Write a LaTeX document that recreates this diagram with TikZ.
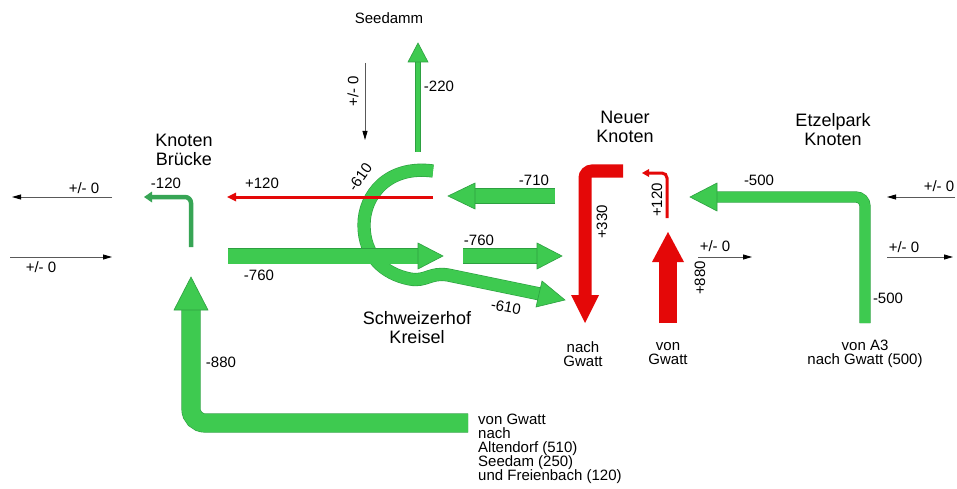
\documentclass[tikz,border=0pt]{standalone}
\usepackage{fontspec}
\setmainfont{Liberation Sans}
\usetikzlibrary{arrows.meta}
\definecolor{gfill}{RGB}{62,202,80}
\definecolor{gdark}{RGB}{45,160,65}
\definecolor{gthin}{RGB}{55,165,85}
\definecolor{rfill}{RGB}{228,8,8}
\begin{document}
\begin{tikzpicture}[x=1pt,y=-1pt,
  lbl/.style={font=\fontsize{15}{14}\selectfont, inner sep=0pt},
  ttl/.style={font=\fontsize{18}{19}\selectfont, align=center, inner sep=0pt},
  sm/.style={font=\fontsize{15}{14}\selectfont, align=center, inner sep=0pt},
  thinarr/.style={draw=black!65, line width=0.8pt, -{Triangle[length=9pt,width=5pt,color=black]}},
  gshaft/.style={draw=gdark, double=gfill, line width=0.6pt, double distance=#1},
  ghead/.style={fill=gfill, draw=gdark, line width=0.6pt, line join=miter},
  rshaft/.style={draw=rfill, line width=#1},
  rhead/.style={fill=rfill},
]
\useasboundingbox (0,0) rectangle (957,489);
\fill[white] (0,0) rectangle (957,489);

% ---------- titles ----------
\node[ttl] (kb) at (184,150) {Knoten\\Brücke};
\node[ttl] (nk) at (625,127) {Neuer\\Knoten};
\node[ttl] (ek) at (833,130) {Etzelpark\\Knoten};
\node[ttl] (sk) at (417,328) {Schweizerhof\\Kreisel};
\node[lbl] (seedamm) at (389,18) {Seedamm};
\node[sm] (nachg) at (583,354) {nach\\Gwatt};
\node[sm] (vong) at (668,354) {von\\Gwatt};
\node[sm] (vona3) at (865,354) {von A3\\nach Gwatt (500)};
\node[lbl, align=left, anchor=north west] (vongw) at (478,414)
  {von Gwatt\\nach\\Altendorf (510)\\Seedam (250)\\und Freienbach (120)};

% ---------- thin black arrows ----------
\coordinate (a1s) at (112,197); \coordinate (a1e) at (12,197);
\coordinate (a2s) at (10,257);  \coordinate (a2e) at (112,257);
\coordinate (a3s) at (365,63);  \coordinate (a3e) at (365,140);
\coordinate (a4s) at (698,257); \coordinate (a4e) at (752,257);
\coordinate (a5s) at (955,197); \coordinate (a5e) at (887,197);
\coordinate (a6s) at (887,257); \coordinate (a6e) at (953,257);
\draw[thinarr] (a1s) -- (a1e);
\draw[thinarr] (a2s) -- (a2e);
\draw[thinarr] (a3s) -- (a3e);
\draw[thinarr] (a4s) -- (a4e);
\draw[thinarr] (a5s) -- (a5e);
\draw[thinarr] (a6s) -- (a6e);
\node[lbl] (l1) at (84,188) {+/- 0};
\node[lbl] (l2) at (41,267) {+/- 0};
\node[lbl, rotate=90] (l3) at (353,91) {+/- 0};
\node[lbl] (l4) at (715,246) {+/- 0};
\node[lbl] (l5) at (939,186) {+/- 0};
\node[lbl] (l6) at (904,247) {+/- 0};

% ---------- green arrows ----------
% -880
\draw[gshaft=18pt, rounded corners=14pt] (468,423) -- (191,423) -- (191,309);
\draw[ghead] (174,310) -- (208,310) -- (191,277) -- cycle;
% semicircle / -610
\draw[gshaft=12pt] (433,171) .. controls (388,165) and (364,195) .. (364,225)
   .. controls (364,256) and (384,274) .. (410,279)
   .. controls (426,282) and (430,272) .. (448,275) -- (540,294);
\draw[ghead] (542,281) -- (536,307) -- (565,300) -- cycle;
% -760 left
\draw[gshaft=15pt] (228,256) -- (419,256);
\draw[ghead] (418,243) -- (418,269) -- (443,256) -- cycle;
% -710
\draw[gshaft=14pt] (555,196) -- (474,196);
\draw[ghead] (475,183) -- (475,209) -- (448,196) -- cycle;
% -760 right
\draw[gshaft=14pt] (463,256) -- (538,256);
\draw[ghead] (537,243) -- (537,269) -- (562,256) -- cycle;
% -500
\draw[gshaft=10pt, rounded corners=9pt] (865,323) -- (865,197) -- (716,197);
\draw[ghead] (717,183) -- (717,211) -- (690,197) -- cycle;
% -220
\draw[gshaft=4pt] (418,152) -- (418,61);
\draw[ghead] (408,62) -- (428,62) -- (418,43) -- cycle;
% Knoten Bruecke -120
\draw[draw=gthin, line width=4.5pt, rounded corners=6pt] (191,247) -- (191,197) -- (151,197);
\fill[gthin] (152,191.5) -- (152,202.5) -- (144,197) -- cycle;

% ---------- red arrows ----------
\draw[rshaft=3pt] (433,197) -- (234,197);
\fill[rhead] (236,192.5) -- (236,201.5) -- (227,197) -- cycle;
\draw[rshaft=13pt, rounded corners=7pt] (623,171) -- (585,171) -- (585,296);
\fill[rhead] (571,295) -- (599,295) -- (585,323) -- cycle;
\draw[rshaft=3pt, rounded corners=5pt] (667,218) -- (667,173) -- (648,173);
\fill[rhead] (649,169) -- (649,177) -- (642,173) -- cycle;
\draw[rshaft=18pt] (668,323) -- (668,261);
\fill[rhead] (652,262) -- (684,262) -- (668,232) -- cycle;

% ---------- numeric labels ----------
\node[lbl] (n120a) at (166,183) {-120};
\node[lbl] (n120b) at (262,183) {+120};
\node[lbl] (n760a) at (259,275) {-760};
\node[lbl] (n220) at (439,86) {-220};
\node[lbl] (n710) at (534,180) {-710};
\node[lbl] (n760b) at (479,240) {-760};
\node[lbl, rotate=55] (n610a) at (360,177) {-610};
\node[lbl, rotate=-10] (n610b) at (506,307) {-610};
\node[lbl, rotate=90] (n330) at (602,222) {+330};
\node[lbl, rotate=90] (n120c) at (657,200) {+120};
\node[lbl, rotate=90] (n880) at (700,278) {+880};
\node[lbl] (n500a) at (759,180) {-500};
\node[lbl] (n500b) at (888,298) {-500};
\node[lbl] (n880b) at (221,362) {-880};
\end{tikzpicture}
\end{document}
